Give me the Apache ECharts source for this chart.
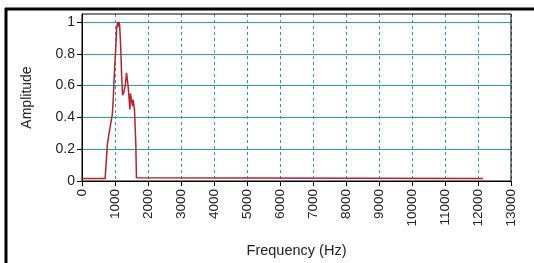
<!DOCTYPE html>
<html>
<head>
<meta charset="utf-8">
<script src="https://cdn.jsdelivr.net/npm/echarts@6/dist/echarts.min.js"></script>
<style>
  html, body { margin: 0; padding: 0; background: #fff; }
  #chart { width: 534px; height: 263px; }
</style>
</head>
<body>
<div id="chart"></div>
<script>
// spectrum (Hz, amplitude)
const freqs = [0, 700, 740, 770, 820, 870, 920, 950, 990, 1020, 1050, 1080, 1100, 1120, 1140, 1160, 1180, 1200, 1230, 1270, 1310, 1350, 1380, 1400, 1430, 1450, 1470, 1510, 1530, 1550, 1590, 1630, 1650, 1690, 12150];
const amps = [0.015, 0.015, 0.02, 0.23, 0.30, 0.36, 0.42, 0.53, 0.72, 0.82, 0.96, 1.0, 0.97, 1.0, 0.98, 0.90, 0.80, 0.67, 0.54, 0.56, 0.60, 0.68, 0.69, 0.59, 0.51, 0.45, 0.55, 0.56, 0.47, 0.51, 0.45, 0.24, 0.02, 0.015, 0.015];
const yTicks = [0, 0.2, 0.4, 0.6, 0.8, 1];

const font = "Liberation Sans, Arial, sans-serif";
const teal = "#2aa0a0";
const chart = echarts.init(document.getElementById("chart"));

chart.setOption({
  backgroundColor: "#fff",
  animation: false,
  grid: { left: 82, right: 23, top: 14, bottom: 81, show: true, borderColor: "#000", borderWidth: 1, z: 10 },
  xAxis: {
    type: "value",
    min: 0,
    max: 13000,
    interval: 1000,
    name: "Frequency (Hz)",
    nameLocation: "middle",
    nameGap: 62,
    nameTextStyle: { fontFamily: font, fontSize: 14.5, color: "#222" },
    axisLine: { lineStyle: { color: "#000", width: 1 } },
    axisTick: { show: true, length: 5, lineStyle: { color: "#000" } },
    axisLabel: { rotate: 90, margin: 8, fontFamily: font, fontSize: 13.5, color: "#222", formatter: (v) => String(v) },
    splitLine: { show: true, lineStyle: { color: teal, type: [3, 3], width: 1 } },
  },
  yAxis: {
    type: "value",
    min: 0,
    max: 1.05,
    interval: 0.2,
    name: "Amplitude",
    nameLocation: "middle",
    nameGap: 48,
    nameTextStyle: { fontFamily: font, fontSize: 14, color: "#222" },
    axisLine: { show: true, lineStyle: { color: "#000", width: 1 } },
    axisTick: { show: true, length: 5, lineStyle: { color: "#000" }, customValues: yTicks },
    axisLabel: { margin: 7, fontFamily: font, fontSize: 14, color: "#222", showMaxLabel: false, formatter: (v) => String(+v.toFixed(1)) },
    splitLine: { show: true, lineStyle: { color: teal, type: "solid", width: 1 } },
  },
  graphic: [
    { type: "line", shape: { x1: 6, y1: 8, x2: 6, y2: 263 }, style: { stroke: "#000", lineWidth: 3 } },
    { type: "line", shape: { x1: 5, y1: 9, x2: 534, y2: 9 }, style: { stroke: "#000", lineWidth: 3 } },
  ],
  series: [
    {
      type: "line",
      data: freqs.map((f, i) => [f, amps[i]]),
      showSymbol: false,
      lineStyle: { color: "#b8202c", width: 1.5 },
      z: 5,
    },
  ],
});
</script>
</body>
</html>
